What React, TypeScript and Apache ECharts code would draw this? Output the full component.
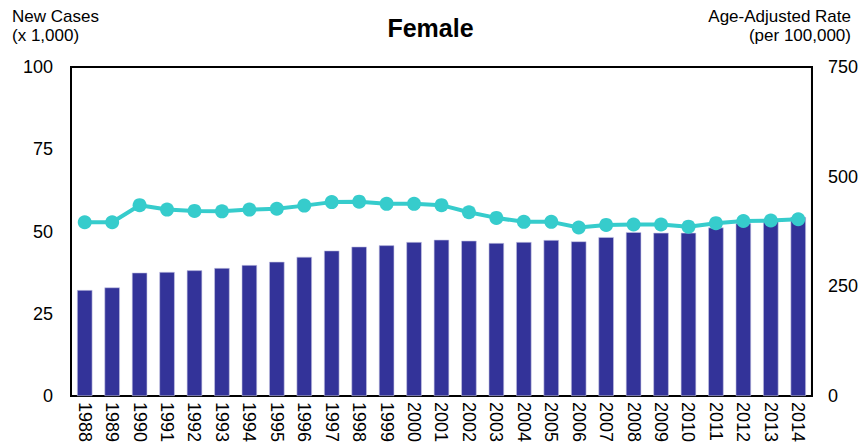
import React, { useEffect, useRef } from "react";
import * as echarts from "echarts";

const years = ["1988","1989","1990","1991","1992","1993","1994","1995","1996","1997","1998","1999","2000","2001","2002","2003","2004","2005","2006","2007","2008","2009","2010","2011","2012","2013","2014"];
const newCases = [32.2,33.0,37.5,37.7,38.2,38.9,39.8,40.8,42.3,44.2,45.4,45.8,46.8,47.5,47.2,46.5,46.8,47.4,47.0,48.3,49.8,49.6,49.6,51.2,52.5,53.2,54.4];
const rates = [396,396,435,425,422,421,425,427,434,442,443,438,438,435,419,406,397,397,384,390,391,391,386,394,399,400,403];
const leftTicks = [0,25,50,75,100];
const rightTicks = [0,250,500,750];

const FONT = "Liberation Sans, Arial, sans-serif";

export default function App() {
  const ref = useRef<HTMLDivElement>(null);
  useEffect(() => {
    const chart = echarts.init(ref.current!, null, { renderer: "svg" });
    chart.setOption({
      animation: false,
      textStyle: { fontFamily: FONT },
      title: {
        text: "Female",
        left: "center",
        top: 10,
        textStyle: { fontSize: 25, fontWeight: "bold", color: "#000", fontFamily: FONT },
      },
      graphic: [
        { type: "text", x: 12, y: 8, style: { text: "New Cases", font: `17px ${FONT}`, fill: "#000" } },
        { type: "text", x: 12, y: 27, style: { text: "(x 1,000)", font: `17px ${FONT}`, fill: "#000" } },
        { type: "text", x: 851, y: 8, style: { text: "Age-Adjusted Rate", font: `17px ${FONT}`, fill: "#000", align: "right" } },
        { type: "text", x: 851, y: 27, style: { text: "(per 100,000)", font: `17px ${FONT}`, fill: "#000", align: "right" } },
      ],
      grid: { left: 71, right: 47, top: 67, bottom: 52, show: true, borderColor: "#000", borderWidth: 2 },
      xAxis: {
        type: "category",
        data: years,
        axisLine: { show: true, lineStyle: { color: "#000", width: 2 } },
        axisTick: { show: false },
        axisLabel: { rotate: -90, fontSize: 18, color: "#000", margin: 6, interval: 0, fontFamily: FONT },
      },
      yAxis: [
        {
          type: "value", min: 0, max: 100, interval: 25,
          axisLine: { show: true, lineStyle: { color: "#000", width: 2 } },
          axisTick: { show: false },
          splitLine: { show: false },
          axisLabel: { fontSize: 18, color: "#000", margin: 18, fontFamily: FONT,
            formatter: (v: number) => (leftTicks.includes(v) ? String(v) : "") },
        },
        {
          type: "value", min: 0, max: 750, interval: 250,
          axisLine: { show: true, lineStyle: { color: "#000", width: 2 } },
          axisTick: { show: false },
          splitLine: { show: false },
          axisLabel: { fontSize: 18, color: "#000", margin: 16, fontFamily: FONT,
            formatter: (v: number) => (rightTicks.includes(v) ? String(v) : "") },
        },
      ],
      series: [
        {
          type: "bar", data: newCases, yAxisIndex: 0, barWidth: "56%",
          itemStyle: { color: "#333399", borderColor: "#c8c8e6", borderWidth: 0.6 },
        },
        {
          type: "line", data: rates, yAxisIndex: 1, symbol: "circle", symbolSize: 14,
          lineStyle: { color: "#36CCCC", width: 4 },
          itemStyle: { color: "#36CCCC" },
        },
      ],
    });
    return () => chart.dispose();
  }, []);
  return <div ref={ref} style={{ width: 861, height: 448, position: "absolute", left: 0, top: 0 }} />;
}
